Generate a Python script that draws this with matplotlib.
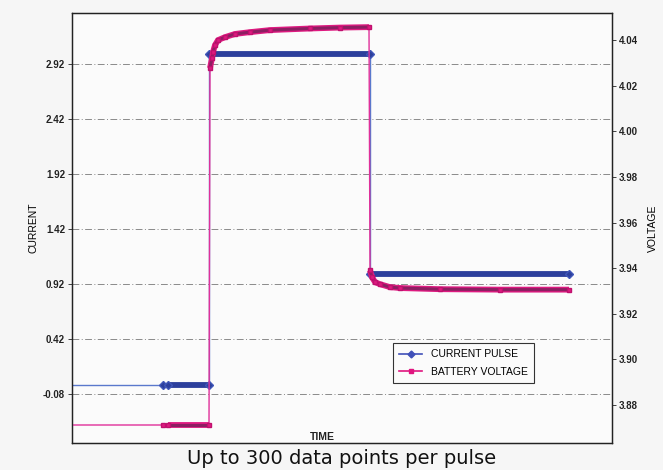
import matplotlib.pyplot as plt
from matplotlib.lines import Line2D

plt.rcParams['font.family'] = ['Liberation Sans', 'DejaVu Sans']

# time in samples (arbitrary units, no x tick labels on the chart)
cur_t = [0, 91, 96, 137, 137, 298, 298, 497]
cur_a = [0.0, 0.0, 0.0, 0.0, 3.01, 3.01, 1.01, 1.01]

volt_t = [0, 91, 96, 137, 138, 140, 141, 143, 146, 153, 163, 178, 198, 238, 268, 297,
          298, 300, 303, 308, 318, 328, 368, 428, 497]
volt_v = [3.8712, 3.8712, 3.8712, 3.8712,
          4.0278, 4.0322, 4.0349, 4.0379, 4.0401, 4.0414, 4.0428, 4.0436, 4.0445, 4.0452, 4.0456, 4.0458,
          3.9391, 3.9361, 3.9339, 3.9330, 3.9317, 3.9313, 3.9308, 3.9306, 3.9306]

left_ticks = [-0.08, 0.42, 0.92, 1.42, 1.92, 2.42, 2.92]
right_ticks = [3.88, 3.90, 3.92, 3.94, 3.96, 3.98, 4.00, 4.02, 4.04]

# segments drawn as dense sample bands (index ranges into the arrays)
cur_bands = [(2, 4), (4, 6), (6, 8)]
volt_bands = [(2, 4), (4, 16), (16, 25)]

blue_thin = '#5a78cc'
blue_band = '#2c3f9c'
pink_thin = '#e0309a'
pink_band = '#de1a80'
pink_dark = '#8c1f62'

fig = plt.figure(figsize=(6.63, 4.70), dpi=100, facecolor='#f6f6f6')
ax = fig.add_axes([72 / 663, 27 / 470, 540 / 663, 430 / 470], facecolor='#fbfbfb')
ax2 = ax.twinx()

# current pulse
ax.plot(cur_t, cur_a, color=blue_thin, lw=1.0, zorder=2)
for a, b in cur_bands:
    ax.plot(cur_t[a:b], cur_a[a:b], color=blue_band, lw=4.2, solid_capstyle='butt', zorder=3)
ax.plot(cur_t[1:], cur_a[1:], ls='none', marker='D', ms=4, color=blue_band,
        mec='#3f56b8', zorder=4)

# battery voltage
ax2.plot(volt_t, volt_v, color=pink_thin, lw=1.0, zorder=2)
for a, b in volt_bands:
    ax2.plot(volt_t[a:b], volt_v[a:b], color=pink_band, lw=4.2, solid_capstyle='butt', zorder=3)
    ax2.plot(volt_t[a:b], volt_v[a:b], color=pink_dark, lw=2.2, solid_capstyle='butt', zorder=3)
ax2.plot(volt_t[1:], volt_v[1:], ls='none', marker='s', ms=3.5, color=pink_band,
         mec='#c0106e', zorder=4)

ax.set_xlim(0, 540)
ax.set_ylim(-0.523, 3.386)
ax2.set_ylim(3.8633, 4.052)

ax.set_yticks(left_ticks)
ax.set_yticklabels(['%.2f' % v for v in left_ticks], fontweight='bold')
ax2.set_yticks(right_ticks)
ax2.set_yticklabels(['%.2f' % v for v in right_ticks], fontweight='bold')
ax.set_xticks([])

for a in (ax, ax2):
    a.tick_params(axis='y', labelsize=7, length=3, width=0.6, pad=2, colors='#222222')
    for s in a.spines.values():
        s.set_color('#222222')
        s.set_linewidth(0.9)

ax.grid(axis='y', color='#8a8a8a', lw=0.7, ls=(0, (7, 2.5, 1, 2.5)))
ax.set_axisbelow(True)

ax.set_ylabel('CURRENT', fontsize=7.5, labelpad=3)
ax2.set_ylabel('VOLTAGE', fontsize=7.5, labelpad=7)
ax.text(0.463, 0.014, 'TIME', transform=ax.transAxes, ha='center', va='center',
        fontsize=7.5, fontweight='bold', color='#222222')

handles = [
    Line2D([], [], color='#4050b8', lw=1.2, marker='D', ms=3.5),
    Line2D([], [], color='#e0157f', lw=1.2, marker='s', ms=3.5),
]
leg = ax2.legend(handles, ['CURRENT PULSE', 'BATTERY VOLTAGE'], loc='lower left',
                 bbox_to_anchor=(0.585, 0.128), fontsize=7.5, fancybox=False,
                 framealpha=1, edgecolor='#333333', facecolor='#fbfbfb',
                 handlelength=2.2, borderpad=0.6, labelspacing=0.7)
leg.get_frame().set_linewidth(0.8)

fig.text(341.5 / 663, 1 - 458 / 470, 'Up to 300 data points per pulse', ha='center',
         va='center', fontsize=14, family='DejaVu Sans', color='#111111')

fig.savefig('out.png', dpi=100, facecolor=fig.get_facecolor())
